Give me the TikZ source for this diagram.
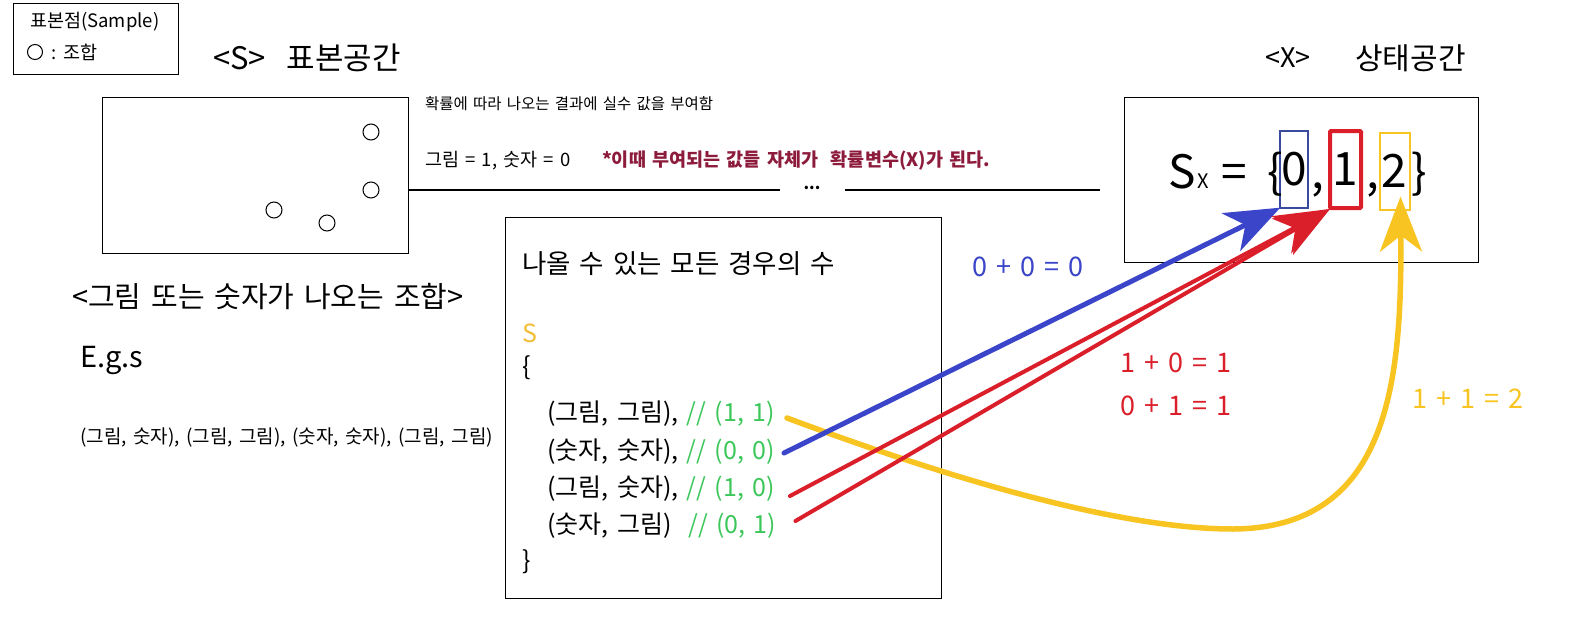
\documentclass[tikz,border=0pt]{standalone}
\usepackage{fontspec}
\setmainfont{Noto Sans CJK KR}[WordSpace=1.5]
\usetikzlibrary{arrows.meta,calc,positioning}

\definecolor{arrblue}{HTML}{3B45C9}
\definecolor{boxblue}{HTML}{3A4A9C}
\definecolor{arrred}{HTML}{DA1F2A}
\definecolor{arryel}{HTML}{F8C421}
\definecolor{codegreen}{HTML}{3DC75B}
\definecolor{codeyel}{HTML}{F2BE3A}
\definecolor{notered}{HTML}{8C1B3C}

\newcommand{\fsz}[1]{\fontsize{#1}{#1}\selectfont}

\begin{document}
\begin{tikzpicture}[x=1pt,y=-1pt,
  txt/.style={inner sep=0, anchor=west},
  frame/.style={draw, line width=1.3pt, inner sep=0, anchor=north west},
  sdot/.style={draw, circle, minimum size=16pt, inner sep=0, line width=1pt},
  digbox/.style={inner sep=0, minimum height=77pt, font=\fsz{46}},
  rowtxt/.style={txt, font=\fsz{25}},
  sumtxt/.style={txt, font=\fsz{27}},
  tipbig/.style={-{Stealth[length=55pt,width=42pt,inset=16pt]}}]

\useasboundingbox (0,0) rectangle (1575,629);

% ----- Legend -----
\node[frame, minimum width=165pt, minimum height=71pt] (legend) at (13,3) {};
\node[txt, font=\fsz{18.5}] (legtitle) at (30,22) {표본점(Sample)};
\node[sdot, minimum size=15pt] (legdot) at (35,52) {};
\node[txt, font=\fsz{18.5}] (legtxt) at (51,52) {: 조합};

% ----- Sample space S -----
\node[txt, font=\fsz{31}] (stitle) at (213,58) {<S>\ \ 표본공간};
\node[frame, minimum width=306pt, minimum height=156pt] (sbox) at (102,97) {};
\foreach \px/\py [count=\k] in {371/132, 371/190, 274/210, 327/223}
  \node[sdot] (pt\k) at (\px,\py) {};

\node[txt, font=\fsz{29}] (combo) at (72,297) {<그림 또는 숫자가 나오는 조합>};
\node[txt, font=\fsz{29}] (egs) at (80,360) {E.g.s};
\node[txt, font=\fsz{19}] (eglist) at (80,438) {(그림, 숫자), (그림, 그림), (숫자, 숫자), (그림, 그림)};

% ----- Mapping text -----
\node[txt, font=\fsz{15.5}] (assign) at (425,104) {확률에 따라 나오는 결과에 실수 값을 부여함};
\node[txt, font=\fsz{18.5}] (values) at (425,161) {그림 = 1, 숫자 = 0};
\node[txt, font=\bfseries\fsz{18.5}, text=notered] (note) at (602,161) {*이때 부여되는 값들 자체가\ \ 확률변수(X)가 된다.};

\node[font=\bfseries\fsz{16}, inner sep=0] (dots) at (812,188) {...};
\coordinate (lineend) at (1100,190);
\draw[line width=1.3pt] (sbox.east |- 0,190) -- (780,190);
\draw[line width=1.3pt] (845,190) -- (lineend);

% ----- State space X -----
\node[txt, font=\fsz{27}] (xtag) at (1265,58) {<X>};
\node[txt, font=\fsz{30}] (xtitle) at (1355,58) {상태공간};
\node[frame, minimum width=354pt, minimum height=165pt] (xbox) at (1124,97) {};

\node[digbox, draw=boxblue, line width=1.3pt, minimum width=28pt] (d0) at (1294,169.5) {0};
\node[digbox, draw=arrred, line width=4pt, rounded corners=1pt, minimum width=31pt] (d1) at (1345.5,169.5) {1};
\node[digbox, draw=arryel, line width=2pt, minimum width=30pt] (d2) at (1394.5,171) {2};

\node[inner sep=0, anchor=base west, font=\fsz{46}] (sx) at (1168,188) {S};
\node[inner sep=0, anchor=base west, font=\fsz{20}] (sxsub) at (1197,188) {X};
\node[inner sep=0, anchor=base west, font=\fsz{46}] (eq) at (1221,188) {=};
\node[inner sep=0, anchor=base east, font=\fsz{46}] (lbr) at (1283,188) {\{};
\node[inner sep=0, anchor=base west, font=\fsz{46}] (cm1) at (1311,188) {,};
\node[inner sep=0, anchor=base west, font=\fsz{46}] (cm2) at (1366,188) {,};
\node[inner sep=0, anchor=base west, font=\fsz{46}] (rbr) at (1411,188) {\}};

% ----- All outcomes -----
\node[frame, minimum width=436pt, minimum height=381pt] (cases) at (505,217) {};
\node[txt, font=\fsz{26.5}] (casetitle) at (522,264) {나올 수 있는 모든 경우의 수};
\node[txt, font=\fsz{25}, text=codeyel] (setname) at (522,333) {S};
\node[txt, font=\fsz{25}] (open) at (522,368) {\{};
\node[rowtxt] (r11) at (547,414) {(그림, 그림), \textcolor{codegreen}{// (1, 1)}};
\node[rowtxt] (r00) at (547,452) {(숫자, 숫자), \textcolor{codegreen}{// (0, 0)}};
\node[rowtxt] (r10) at (547,489) {(그림, 숫자), \textcolor{codegreen}{// (1, 0)}};
\node[rowtxt] (r01) at (547,526) {(숫자, 그림)\ \ \textcolor{codegreen}{// (0, 1)}};
\node[txt, font=\fsz{25}] (close) at (522,562) {\}};

% ----- Sums -----
\node[sumtxt, text=arrblue] (sum00) at (972,267) {0 + 0 = 0};
\node[sumtxt, text=arrred] (sum10) at (1120,363) {1 + 0 = 1};
\node[sumtxt, text=arrred] (sum01) at (1120,406) {0 + 1 = 1};
\node[sumtxt, text=arryel] (sum11) at (1412,399) {1 + 1 = 2};

% ----- Arrows -----
\draw[arryel, line width=5.5pt, line cap=round, tipbig]
  ($(r11.east)+(12,4)$) .. controls (900,460) and (1100,529) .. (1233,529)
  .. controls (1390,528) and (1402,380) .. ($(d2.south)+(6,-14)$);
\draw[arrblue, line width=5pt, line cap=round, tipbig] ($(r00.east)+(9,1)$) -- ($(d0.south west)+(1,-1)$);
\draw[arrred, line width=4pt, line cap=round, tipbig] ($(r10.east)+(15,7)$) -- ($(d1.south west)+(2,-1)$);
\draw[arrred, line width=4pt, line cap=round, tipbig] ($(r01.east)+(19,-5)$) -- ($(d1.south west)+(2,-1)$);

\end{tikzpicture}
\end{document}
